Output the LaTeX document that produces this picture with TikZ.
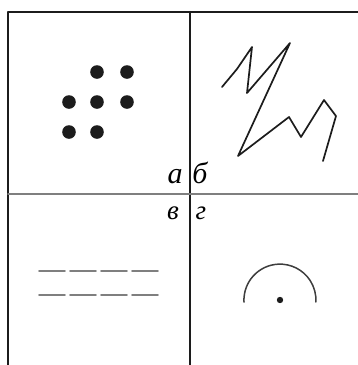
\documentclass[tikz,border=0pt]{standalone}
\usepackage{fontspec}
\newfontfamily\cyrfont{Liberation Serif}
\usepackage{tikz}
\definecolor{inkBlack}{HTML}{1C1C1C}
\definecolor{lineGray}{HTML}{7F7F7F}
\tikzset{
  letterbig/.style={font=\fontsize{30}{30}\cyrfont\itshape\selectfont, anchor=base, inner sep=0pt},
  lettersmall/.style={font=\fontsize{27}{27}\cyrfont\itshape\selectfont, anchor=base, inner sep=0pt}
}

\begin{document}
\begin{tikzpicture}[x=1pt, y=-1pt, line cap=round, line join=round]
        \useasboundingbox (0,0) rectangle (358,365);
        % frame and the two dividing lines
        \coordinate (fl) at (8,365);
        \coordinate (tl) at (8,12);
        \coordinate (tr) at (358,12);
        \coordinate (vt) at (190,12);
        \coordinate (vb) at (190,365);
        \coordinate (hl) at (8,194);
        \coordinate (hr) at (358,194);
        \draw[inkBlack, line width=1.7pt] (fl) -- (tl) -- (tr);
        \draw[inkBlack, line width=2.3pt] (vt) -- (vb);
        \draw[lineGray, line width=1.6pt] (hl) -- (hr);
        % a: dots
        \foreach \p in {(97,72),(127,72),(69,102),(97,102),(127,102),(69,132),(97,132)}
            \fill[inkBlack] \p circle (6.8pt);
        % b: zigzag
        \draw[inkBlack, line width=1.7pt] (222,87) -- (237,69) -- (252,47) -- (247,93) -- (290,43)
            -- (238,156) -- (289,117) -- (301,137) -- (324,100) -- (336,116) -- (323,161);
        % v: dashes
        \foreach \y in {271,295}
            \foreach \x in {39,70,101,132}
                \draw[lineGray, line width=1.6pt] (\x,\y) -- ++(26,0);
        % g: half circle with centre
        \draw[inkBlack!85, line width=1.5pt] (244,302) arc[start angle=183, end angle=-3, radius=36pt];
        \fill[inkBlack] (280,300) circle (3.2pt);
        % labels
        \node[letterbig] (la) at (175,183) {а};
        \node[letterbig] (lb) at (200,183) {б};
        \node[lettersmall] (lv) at (173,219) {в};
        \node[lettersmall] (lg) at (201,219) {г};
    \end{tikzpicture}
\end{document}
